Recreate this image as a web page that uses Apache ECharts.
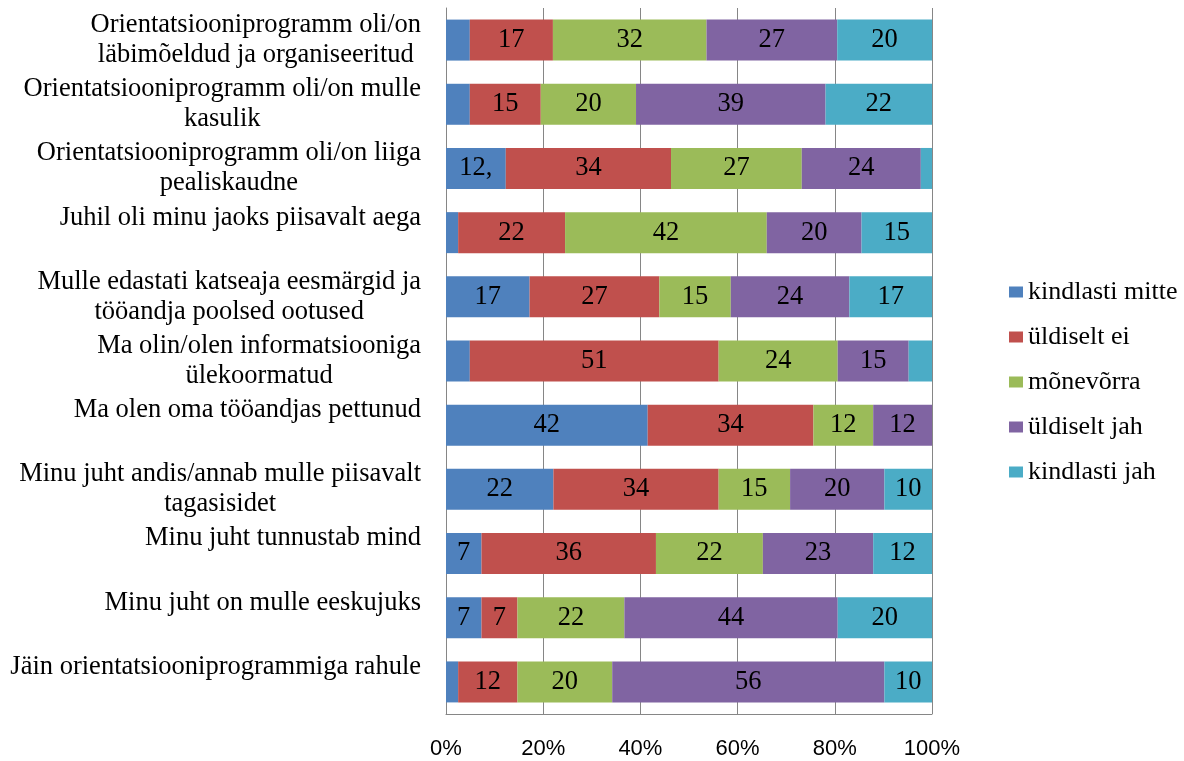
<!DOCTYPE html>
<html><head><meta charset="utf-8">
<script src="https://cdn.jsdelivr.net/npm/echarts@6/dist/echarts.min.js"></script>
<style>html,body{margin:0;padding:0;background:#fff}#c{width:1184px;height:761px}</style>
</head><body><div id="c"></div>
<script>
const categories = [
  "Orientatsiooniprogramm oli/on\nläbimõeldud ja organiseeritud",
  "Orientatsiooniprogramm oli/on mulle\nkasulik",
  "Orientatsiooniprogramm oli/on liiga\npealiskaudne",
  "Juhil oli minu jaoks piisavalt aega",
  "Mulle edastati katseaja eesmärgid ja\ntööandja poolsed ootused",
  "Ma olin/olen informatsiooniga\nülekoormatud",
  "Ma olen oma tööandjas pettunud",
  "Minu juht andis/annab mulle piisavalt\ntagasisidet",
  "Minu juht tunnustab mind",
  "Minu juht on mulle eeskujuks",
  "Jäin orientatsiooniprogrammiga rahule"
];
const seriesNames = ['kindlasti mitte','üldiselt ei','mõnevõrra','üldiselt jah','kindlasti jah'];
const kindlastiMitte = [4.9,4.9,12.3,2.5,17.2,4.9,41.5,22.1,7.3,7.3,2.5];
const uldiseltEi     = [17.1,14.6,34.0,22.0,26.7,51.2,34.1,34.0,35.9,7.4,12.2];
const monevorra      = [31.6,19.6,26.9,41.5,14.7,24.5,12.3,14.7,22.0,22.0,19.5];
const uldiseltJah    = [26.9,39.0,24.5,19.5,24.4,14.6,12.1,19.4,22.7,43.9,56.0];
const kindlastiJah   = [19.5,21.9,2.3,14.5,17.0,4.8,0,9.8,12.1,19.4,9.8];
const labelsKindlastiMitte = ['','','12,','','17','','42','22','7','7',''];
const labelsUldiseltEi     = ['17','15','34','22','27','51','34','34','36','7','12'];
const labelsMonevorra      = ['32','20','27','42','15','24','12','15','22','22','20'];
const labelsUldiseltJah    = ['27','39','24','20','24','15','12','20','23','44','56'];
const labelsKindlastiJah   = ['20','22','','15','17','','','10','12','20','10'];
const xTicks = ['0%','20%','40%','60%','80%','100%'];

const colors = ['#4F81BD','#C0504D','#9BBB59','#8064A2','#4BACC6'];
const values = [kindlastiMitte, uldiseltEi, monevorra, uldiseltJah, kindlastiJah];
const labels = [labelsKindlastiMitte, labelsUldiseltEi, labelsMonevorra, labelsUldiseltJah, labelsKindlastiJah];
const serif = 'Liberation Serif';

const chart = echarts.init(document.getElementById('c'));
chart.setOption({
  animation: false,
  backgroundColor: '#fff',
  grid: { left: 446, right: 252, top: 8, bottom: 47, containLabel: false },
  legend: {
    orient: 'vertical', left: 1004, top: 274,
    itemWidth: 14, itemHeight: 11, itemGap: 19,
    icon: 'rect',
    data: seriesNames,
    textStyle: { fontFamily: serif, fontSize: 26, color: '#000', lineHeight: 26 }
  },
  xAxis: {
    type: 'value', min: 0, max: 100, interval: 20,
    axisLine: { show: true, lineStyle: { color: '#868686', width: 1 } },
    axisTick: { show: false },
    splitLine: { show: true, lineStyle: { color: '#868686', width: 1 } },
    axisLabel: {
      margin: 24, fontFamily: 'Liberation Sans', fontSize: 22, color: '#000',
      formatter: v => xTicks[Math.round(v / 20)]
    }
  },
  yAxis: {
    type: 'category', inverse: true, data: categories,
    axisLine: { show: true, lineStyle: { color: '#868686', width: 1 } },
    axisTick: { show: false },
    axisLabel: {
      margin: 25, align: 'right',
      formatter: v => {
        const lines = v.split('\n');
        if (lines.length === 1) lines.push(' ');
        return lines.map(l => '{c|' + l + '}').join('\n');
      },
      rich: { c: { align: 'center', fontFamily: serif, fontSize: 26.5, lineHeight: 30, color: '#000' } }
    }
  },
  series: seriesNames.map((name, i) => ({
    name, type: 'bar', stack: 'total', barWidth: 41,
    itemStyle: { color: colors[i] },
    label: {
      show: true, position: 'inside', color: '#000',
      fontFamily: serif, fontSize: 26.5,
      formatter: p => labels[i][p.dataIndex]
    },
    data: values[i]
  }))
});
</script></body></html>
